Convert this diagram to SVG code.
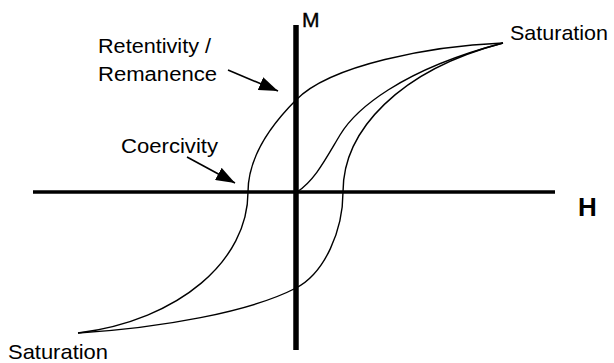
<svg xmlns="http://www.w3.org/2000/svg" width="614" height="363" viewBox="0 0 614 363">
<style>
text{font-family:"Liberation Sans",Arial,sans-serif;fill:#000}
.lbl{font-size:20px}
.sat{font-size:21px}
.curve{fill:none;stroke:#000;stroke-width:1.4}
.axis{stroke:#000;fill:none}
.ptr{stroke:#000;stroke-width:1.6;fill:none;marker-end:url(#ah)}
</style>
<defs>
<marker id="ah" markerUnits="userSpaceOnUse" markerWidth="20" markerHeight="14" refX="19" refY="7" orient="auto">
<path d="M0,0 L19,7 L0,14 Z" fill="#000"/>
</marker>
</defs>
<g id="axes">
<line class="axis" x1="296" y1="25" x2="296" y2="350" stroke-width="5.5"/>
<line class="axis" x1="33" y1="192" x2="555" y2="192" stroke-width="3.5"/>
</g>
<g id="loop">
<path class="curve" d="M503,43 C430,46 330,65 296,100 C262,134 248,165 248,192 C248,260 180,320 78,333"/>
<path class="curve" d="M78,333 C160,328 250,312 296,288 C325,273 343,230 343,192 C343,130 400,70 503,43"/>
<path class="curve" d="M297,192 C315,180 325,160 340,135 C355,110 400,70 503,43"/>
</g>
<g id="connectors">
<line class="ptr" x1="228" y1="70" x2="278" y2="91"/>
<line class="ptr" x1="187" y1="157" x2="235" y2="183"/>
</g>
<g id="label-M"><text x="302" y="27" font-size="21" stroke="#000" stroke-width="0.4">M</text></g>
<g id="label-H"><text x="578" y="216" font-size="26" font-weight="bold">H</text></g>
<g id="label-retentivity">
<text class="lbl" x="98" y="53" textLength="113" lengthAdjust="spacingAndGlyphs">Retentivity /</text>
<text class="lbl" x="98" y="81" textLength="119" lengthAdjust="spacingAndGlyphs">Remanence</text>
</g>
<g id="label-coercivity"><text class="lbl" x="121" y="153" textLength="97" lengthAdjust="spacingAndGlyphs">Coercivity</text></g>
<g id="label-sat-top"><text class="sat" x="510" y="40" textLength="98" lengthAdjust="spacingAndGlyphs">Saturation</text></g>
<g id="label-sat-bottom"><text class="sat" x="8" y="359" textLength="100" lengthAdjust="spacingAndGlyphs">Saturation</text></g>
</svg>
